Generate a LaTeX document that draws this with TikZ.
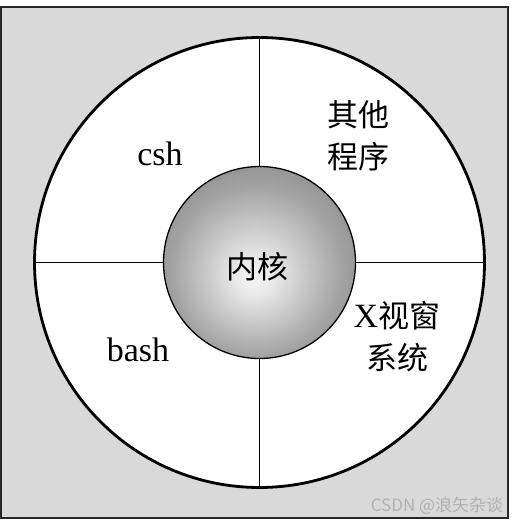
\documentclass[tikz,border=0pt]{standalone}
\usepackage{fontspec}
\setmainfont{Liberation Serif}
\newfontfamily\cjk{Noto Sans CJK SC}
\definecolor{bgray}{RGB}{217,217,217}
\definecolor{wmark}{RGB}{178,178,178}
\definecolor{frame}{RGB}{40,40,40}
\pgfdeclareradialshading{kernshade}{\pgfpoint{-1.5bp}{-4bp}}{%
  color(0bp)=(white!96!black); color(5bp)=(white!91!black);
  color(22bp)=(white!64!black); color(50bp)=(white!34!black)}
\tikzset{
  label/.style={font=\fontsize{34}{38}\selectfont, inner sep=0pt},
  cjklabel/.style={font=\cjk\fontsize{31}{42}\selectfont, inner sep=0pt, align=center},
  divider/.style={line width=1.3pt, draw=black}
}
\begin{document}
\begin{tikzpicture}[x=1pt,y=-1pt]
\useasboundingbox (0,0) rectangle (518,529);
\fill[white] (0,0) rectangle (518,529);
\draw[line width=1.4pt, draw=frame, fill=bgray] (1,7) rectangle (508,518);
\node[circle, draw, line width=2.8pt, fill=white, minimum size=450pt, inner sep=0pt] (outer) at (259.5,262.5) {};
\node[circle, minimum size=192pt, inner sep=0pt] (kernpos) at (259.5,262.5) {};
\draw[divider] (kernpos.north) -- (outer.north);
\draw[divider] (kernpos.south) -- (outer.south);
\draw[divider] (kernpos.west) -- (outer.west);
\draw[divider] (kernpos.east) -- (outer.east);
\node[circle, draw, line width=1.3pt, shading=kernshade, minimum size=192pt, inner sep=0pt] (kern) at (259.5,262.5) {};
\node[cjklabel] (kerntext) at (257,267) {内核};
\node[label] (csh) at (160,154) {csh};
\node[label] (bash) at (138,350) {bash};
\node[cjklabel] (other) at (358,136) {其他\\程序};
\node[cjklabel] (xwin) at (397,337) {{\fontspec{Liberation Serif}\fontsize{34}{42}\selectfont X}视窗\\系统};
\node[font=\cjk\fontsize{17}{20}\selectfont, text=wmark, inner sep=0pt] (wm) at (437,506) {CSDN @浪矢杂谈};
\end{tikzpicture}
\end{document}
